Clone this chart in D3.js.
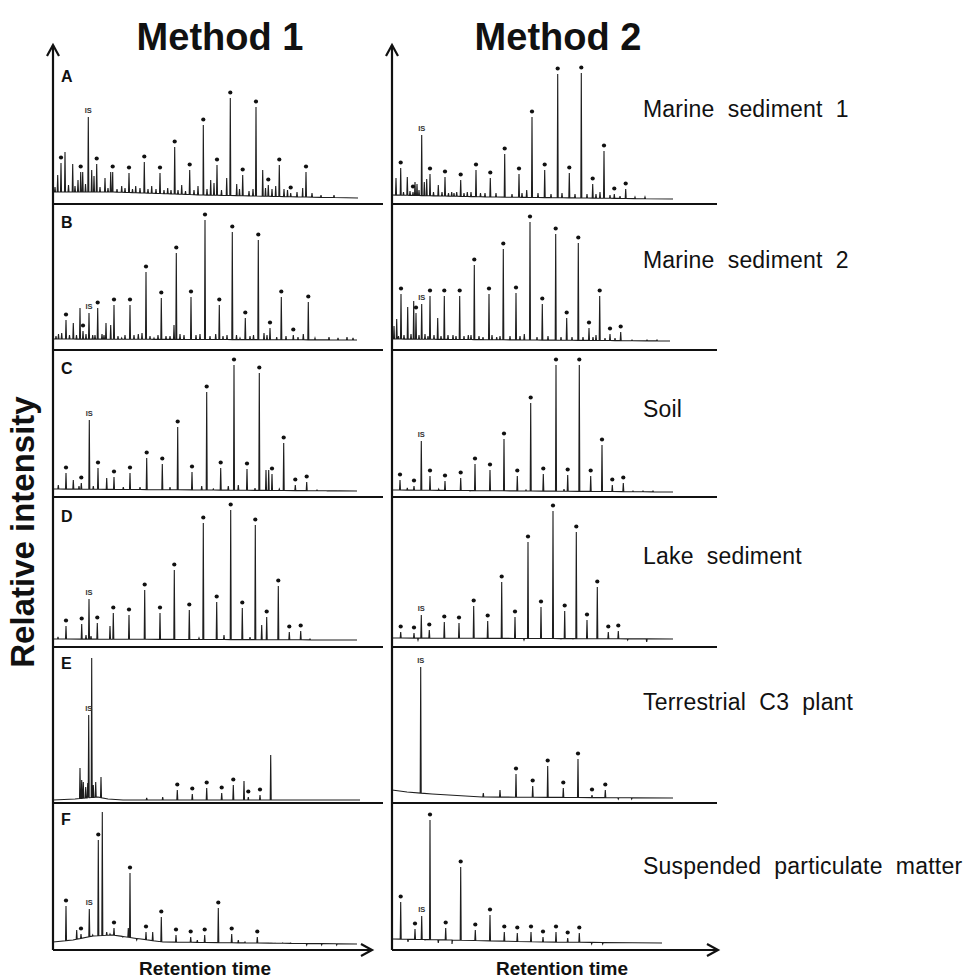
<!DOCTYPE html>
<html><head><meta charset="utf-8">
<script src="https://cdn.jsdelivr.net/npm/d3@7"></script>
<style>body{margin:0;background:#fff} svg{display:block} text{-webkit-font-smoothing:antialiased}</style>
</head><body><svg id="c" width="974" height="978"></svg>
<script>
// ---------- data ----------
const methods = ["Method 1", "Method 2"];
const panelLetters = ["A", "B", "C", "D", "E", "F"];
const sampleNames = ["Marine  sediment  1", "Marine  sediment  2", "Soil", "Lake  sediment", "Terrestrial  C3  plant", "Suspended  particulate  matter"];
const axisTitleY = "Relative intensity";
const axisTitleX = "Retention time";
const isLabel = "IS";

// peaks: [retention time, intensity, mark] mark: 1 = dot (n-alkane), 2 = internal standard
const peaksA1 = [[4.7,29],[8,41,1],[12,52],[19.7,40],[25,24],[27.7,32,1],[29.7,32],[35.3,87,2],[38.7,34],[41,28],[43.7,40,1],[52,26],[57.7,32],[59.7,32,1],[68.7,18],[76,31,1],[82.7,18],[91.3,42,1],[98.7,18],[107,31,1],[114.7,16],[121.7,57,1],[128.7,19],[136.7,34,1],[145,18],[150.3,79,1],[157.7,24],[161,21],[164,39,1],[173.7,26],[177.3,106,1],[183.7,20],[189.7,29,1],[203,97,1],[209.7,34],[215.3,19,1],[222.7,18],[226.3,39,1],[237.7,11,1],[249.7,16],[253,32,1],
  [2,17],[15.5,19],[22,18],[32.5,20],[47,17],[55,16],[64,15],[72,16],[79.5,15],[87,16],[95,15],[103,15],[111,14],[118,14],[125,14],[132.5,13],[141,14],[154,15],[168.5,14],[186.5,15],[196,13],[200,15],[212.5,16],[219,15],[231,15],[234.5,14],[244,12],[259,11],[268,9],[281,9]];
const peaksA2 = [[4,26],[8.7,36,1],[15.3,27],[21,12,1],[23,22],[25,20],[29.7,69,2],[32.3,22],[34.7,25],[38,30,1],[46.3,19],[53,27,1],[59.7,12],[64.7,12],[68.7,24,1],[75.3,12],[84,34,1],[98.3,26,1],[112.7,50,1],[127,30,1],[134.7,14],[140,87,1],[152.7,34,1],[165.7,130,1],[177.3,31,1],[189.3,131,1],[200.7,20,1],[208,12],[212,53,1],[222.3,10,1],[233.7,15,1],[243,7],[253,7],
  [11.5,12],[18,13],[27,14],[41.5,12],[50,12],[56.5,11],[62,11],[72,11],[79,12],[88.5,11],[93,11],[104,11],[120,10],[130,11],[146,11],[159,10],[170,11],[183,10],[195,10],[204,10],[218,9],[228,8]];
const peaksB1 = [[8.7,17],[13,30,1],[20.3,27],[27,42],[30,19,1],[36,37,2],[39.7,15],[44.7,42,1],[53,27],[57.7,25],[61,45,1],[68.7,12],[77,45,1],[85.3,16],[93,78,1],[101,12],[108.3,52,1],[117,14],[121,25],[123.3,97,1],[138,53,1],[147,16],[152,130,1],[162.7,16],[166.3,45,1],[179.3,118,1],[187,12],[192.3,32,1],[205.3,110,1],[211,17],[217,22,1],[223.7,13],[228.3,53,1],[240.3,15,1],[250.3,16],[255.3,48,1],[276,13],[294,13],
  [3,14],[5.5,16],[16.5,15],[23.5,15],[33,16],[42,15],[49,16],[51,15],[65,14],[72,15],[81,15],[89,17],[97,14],[105,15],[113,14],[127,16],[131,15],[143,15],[157,14],[170,14],[174,15],[183.5,15],[197,14],[200.5,15],[214,15],[233,14],[245,13],[262,12],[285,12],[300,12]];
const peaksB2 = [[2,24],[4.7,31],[9,56,1],[15.7,43],[21.7,49],[24,37,1],[29.7,46,2],[33,16],[38,54,1],[45.7,32],[52.3,54,1],[61,15],[67.7,54,1],[76.3,15],[82.3,85,1],[91,13],[97,56,1],[104.7,13],[111.3,101,1],[124,57,1],[132.3,16],[138,128,1],[150.3,46,1],[163.7,116,1],[174.7,32,1],[186.3,107,1],[197,22,1],[204,15],[207.7,54,1],[218,16,1],[228.7,18,1],
  [6.5,14],[12,15],[19,16],[27,15],[36,14],[42,15],[49,14],[56,15],[64,14],[72,14],[79,15],[87,14],[100,15],[108,14],[118,14],[128,14],[145,13],[156,14],[169,13],[180,13],[191,13],[201,13],[213,12],[223,12],[240,10],[255,10],[265,10]];
const peaksC1 = [[5.3,12],[13,24,1],[20.3,17],[26,11],[28.3,14,1],[36.3,77,2],[40.3,11],[45,29,1],[53.7,19],[61,20,1],[70.3,10],[77,24,1],[87,10],[93.7,39,1],[109.3,33,1],[117,10],[124.7,70,1],[139,25,1],[148.7,11],[153.7,105,1],[160.3,8],[167.7,29,1],[175.3,11],[181,132,1],[185.3,12],[194,28,1],[202,9],[206.3,124,1],[213,27],[215.7,27],[219,23,1],[226.3,8],[230.7,54,1],[242.3,12,1],[253.7,15,1],[264,7],[274,6],[285,6]];
const peaksC2 = [[8,17,1],[15.3,9],[22,11,1],[29.3,56,2],[38,21,1],[46.7,8],[53,16,1],[68.7,19,1],[78,6],[83,33,1],[98,27,1],[112,58,1],[125.3,21,1],[134,7],[138.7,94,1],[151.3,23,1],[164,132,1],[172,8],[175.7,22,1],[187.3,132,1],[198.7,21,1],[210,52,1],[220.3,12,1],[231.3,14,1],[241,6],[251,6],[261,6]];
const peaksD1 = [[5,10],[13,21,1],[28.7,23,1],[33,12],[36,48,2],[38,11],[44.3,24,1],[57,21],[60.3,34,1],[76,32,1],[91.7,57,1],[107,34,1],[121.3,77,1],[136.3,37,1],[146,9],[150.3,124,1],[163.7,45,1],[171,12],[177.7,137,1],[189.3,39,1],[197,10],[202.3,122,1],[208.7,22],[213.7,30,1],[225.3,61,1],[236.3,15,1],[247.7,16,1],[257,8]];
const peaksD2 = [[8.7,15,1],[22,14,1],[26,7],[29.3,32,2],[37.3,17,1],[52.3,25,1],[67,24,1],[81.7,41,1],[95.7,26,1],[109.7,65,1],[123,30,1],[132,7],[136,105,1],[149,40,1],[161,136,1],[169,8],[172.7,36,1],[181,8],[184.3,115,1],[195,27,1],[205.3,60,1],[216.3,15,1],[226.3,16,1],[235.7,7],[254.7,5]];
const peaksE1 = [[27,35],[28.7,23],[30.3,21],[32.7,16],[34.7,20],[35.7,88,2],[38.7,145],[40.3,18],[42.7,21],[48,26],[93.7,5],[109.7,6],[124.3,13,1],[139.3,9,1],[153.7,15,1],[168.7,10,1],[180.3,18,1],[191,22],[195.3,6,1],[207,8,1],[217.7,48],[233.7,3],[242,3]];
const peaksE2 = [[28.7,136,2],[91.3,10],[108,13],[124,29,1],[140.7,17,1],[155.7,37,1],[171.3,15,1],[186,44,1],[200,8,1],[213.3,13,1],[226.3,4],[239.7,4]];
const peaksF1 = [[13,44,1],[23.7,20],[28,16,1],[36.3,41,2],[39.7,15],[45.3,110,1],[49.3,138],[53.7,18],[57,16],[61,22,1],[69.7,13],[75.3,22],[77,77,1],[83.7,10],[93,18,1],[99.7,18],[108.3,33,1],[123,15,1],[137.7,13,1],[144.3,10],[151.7,15,1],[165.3,42,1],[178.7,16,1],[185.3,10],[192,8],[204.3,13,1],[217,7],[222,7],[229.7,7],[237.7,7],[253.7,5],[268.7,5],[283.7,5]];
const peaksF2 = [[8.7,48,1],[16,8],[23,21,1],[29.7,34,2],[33,10],[38,130,1],[46.3,7],[53.7,22,1],[60,6],[68.7,83,1],[83.3,20,1],[98,35,1],[112.3,18,1],[125.3,17,1],[139,18,1],[151,13,1],[164,18,1],[175.7,12,1],[187.3,17,1],[199.7,6],[210.7,6]];

// baselines: [retention time, intensity]
const baseA1 = [[0,12],[60,12],[150,9],[250,7],[305,6]];
const baseA2 = [[0,9],[100,7],[281,5]];
const baseB1 = [[0,11],[304,10]];
const baseB2 = [[0,11],[278,9]];
const baseC1 = [[0,8],[304,6]];
const baseC2 = [[0,7],[281,5]];
const baseD1 = [[0,8],[304,7]];
const baseD2 = [[0,9],[281,8]];
const baseE1 = [[0,3],[22,4],[45,6],[55,4],[70,3],[307,3]];
const baseE2 = [[0,13],[15,11],[40,9],[90,6],[281,5]];
const baseF1 = [[0,8],[20,10],[40,14],[60,15],[80,12],[110,8],[200,7],[304,6]];
const baseF2 = [[0,11],[60,10],[150,8],[270,7]];

const peakTable = [[peaksA1, peaksA2],[peaksB1, peaksB2],[peaksC1, peaksC2],[peaksD1, peaksD2],[peaksE1, peaksE2],[peaksF1, peaksF2]];
const baseTable = [[baseA1, baseA2],[baseB1, baseB2],[baseC1, baseC2],[baseD1, baseD2],[baseE1, baseE2],[baseF1, baseF2]];

// ---------- layout ----------
const svg = d3.select("#c");
const floors = [204, 350, 497, 647, 803, 950];
const tops = [48, 204, 350, 497, 647, 803];
const cols = [
  {x: d3.scaleLinear().domain([0, 320]).range([53, 373]), axisX: 53, sepEnd: 383, axisEnd: 372, titleX: 220, labelX: 205},
  {x: d3.scaleLinear().domain([0, 330]).range([392, 722]), axisX: 392, sepEnd: 717, axisEnd: 718, titleX: 558, labelX: 562}
];
const ink = "#111";
const traceColor = "#1e1e1e";
const halfW = 0.5;
const font = "Liberation Sans, Arial, sans-serif";

// traces
peakTable.forEach((row, r) => {
  row.forEach((peaks, c) => {
    const col = cols[c];
    const y = d3.scaleLinear().domain([0, floors[r] - tops[r]]).range([floors[r], tops[r]]);
    const bl = baseTable[r][c];
    const base = d3.scaleLinear().domain(bl.map(d => d[0])).range(bl.map(d => d[1])).clamp(true);
    const pts = bl.map(d => [d[0], d[1]]);
    peaks.forEach(p => {
      pts.push([p[0] - halfW, base(p[0] - halfW)]);
      pts.push([p[0], p[1]]);
      pts.push([p[0] + halfW, base(p[0] + halfW)]);
    });
    pts.sort((a, b) => a[0] - b[0]);
    const line = d3.line().x(d => col.x(d[0])).y(d => y(d[1]));
    const g = svg.append("g");
    g.append("path").attr("d", line(pts)).attr("fill", "none")
      .attr("stroke", traceColor).attr("stroke-width", 1.1).attr("stroke-linejoin", "miter");
    g.selectAll("circle").data(peaks.filter(p => p[2] === 1)).join("circle")
      .attr("cx", d => col.x(d[0])).attr("cy", d => y(d[1]) - 5.5).attr("r", 2.1).attr("fill", ink);
    g.selectAll("text").data(peaks.filter(p => p[2] === 2)).join("text")
      .attr("x", d => col.x(d[0])).attr("y", d => y(d[1]) - 4)
      .attr("text-anchor", "middle").attr("font-family", font)
      .attr("font-weight", "bold").attr("font-size", 7.5).attr("fill", "#333").text(isLabel);
  });
});

// axes & separators
cols.forEach(col => {
  svg.append("line").attr("x1", col.axisX).attr("x2", col.axisX).attr("y1", 950).attr("y2", 45)
    .attr("stroke", ink).attr("stroke-width", 2.2);
  svg.append("path").attr("d", `M${col.axisX - 6},56 L${col.axisX},45 L${col.axisX + 6},56`)
    .attr("fill", "none").attr("stroke", ink).attr("stroke-width", 2.2);
  svg.append("line").attr("x1", col.axisX).attr("x2", col.axisEnd).attr("y1", 950).attr("y2", 950)
    .attr("stroke", ink).attr("stroke-width", 2.2);
  svg.append("path").attr("d", `M${col.axisEnd - 11},944 L${col.axisEnd},950 L${col.axisEnd - 11},956`)
    .attr("fill", "none").attr("stroke", ink).attr("stroke-width", 2.2);
  floors.slice(0, 5).forEach(fy => {
    svg.append("line").attr("x1", col.axisX).attr("x2", col.sepEnd).attr("y1", fy).attr("y2", fy)
      .attr("stroke", ink).attr("stroke-width", 2.2);
  });
  svg.append("text").attr("x", col.labelX).attr("y", 975).attr("text-anchor", "middle")
    .attr("font-family", font).attr("font-weight", "bold")
    .attr("font-size", 19).attr("fill", ink).text(axisTitleX);
});

// method titles
methods.forEach((m, i) => {
  svg.append("text").attr("x", cols[i].titleX).attr("y", 50).attr("text-anchor", "middle")
    .attr("font-family", font).attr("font-weight", "bold")
    .attr("font-size", 38).attr("fill", ink).text(m);
});

// panel letters
const letterBase = [82, 228, 374, 522, 669, 825];
panelLetters.forEach((l, i) => {
  svg.append("text").attr("x", 61).attr("y", letterBase[i])
    .attr("font-family", font).attr("font-weight", "bold")
    .attr("font-size", 16).attr("fill", ink).text(l);
});

// sample names
const nameBase = [117, 268, 417, 564, 710, 874];
sampleNames.forEach((n, i) => {
  svg.append("text").attr("x", 643).attr("y", nameBase[i]).attr("xml:space", "preserve")
    .style("white-space", "pre").attr("letter-spacing", 0.2)
    .attr("font-family", font)
    .attr("font-size", 23).attr("fill", ink).text(n);
});

// y title
svg.append("text").attr("transform", "translate(34,532) rotate(-90)").attr("text-anchor", "middle")
  .attr("font-family", font).attr("font-weight", "bold")
  .attr("font-size", 33).attr("fill", ink).text(axisTitleY);
</script></body></html>
